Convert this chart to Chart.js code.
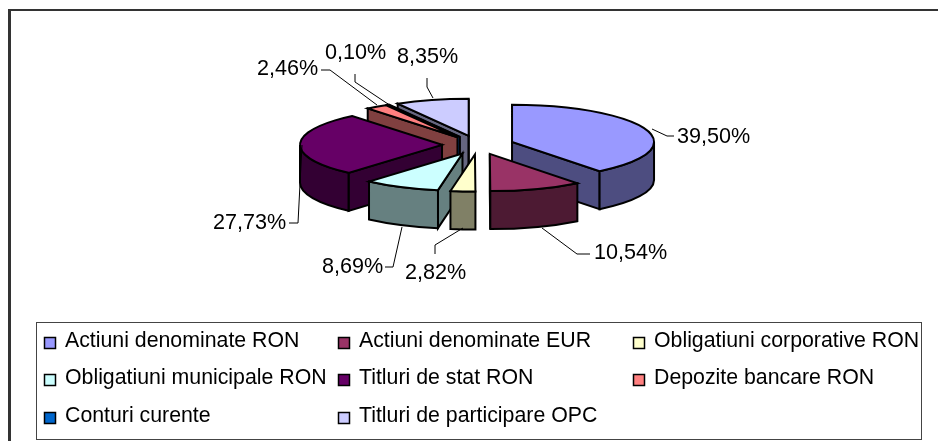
<!DOCTYPE html>
<html>
<head>
<meta charset="utf-8">
<style>
  html, body { margin: 0; padding: 0; background: #fff; }
  #wrap { position: relative; width: 938px; height: 441px; }
</style>
<script src="https://cdn.jsdelivr.net/npm/chart.js@4"></script>
</head>
<body>
<div id="wrap"><canvas id="chart" width="938" height="441"></canvas></div>
<script>
const categories = [
    'Actiuni denominate RON', 'Actiuni denominate EUR', 'Obligatiuni corporative RON',
    'Obligatiuni municipale RON', 'Titluri de stat RON', 'Depozite bancare RON',
    'Conturi curente', 'Titluri de participare OPC'
];
const values = [39.50, 10.54, 2.82, 8.69, 27.73, 2.46, 0.10, 8.35];
const colors = ['#9999FF', '#993366', '#FFFFCC', '#CCFFFF', '#660066', '#FF8080', '#0066CC', '#CCCCFF'];
const sideColors = ['#4D4D80', '#4D1A33', '#808066', '#668080', '#330033', '#804040', '#003366', '#666680'];

// the look of the 3d pie
const tilt = 0.262;
const depth = 38;
const pieX = 478;
const pieY = 145;

// leader lines and text anchors, one per slice
const leaders = [
    [[652, 129], [667, 136], [674, 136]],
    [[542, 228], [577, 254], [590, 254]],
    [[463, 228], [435, 245], [435, 254]],
    [[402, 227], [393, 267], [385, 267]],
    [[302, 145], [298, 223], [289, 223]],
    [[377, 105], [330, 70], [321, 70]],
    [[388, 104], [355, 82], [355, 74]],
    [[433, 98], [427, 87], [427, 78]]
];
const labelPos = [[677, 137], [594, 253], [405, 273], [322, 267.5], [213, 223], [257, 69], [325, 53], [397, 57.5]];

const legendCols = [44, 338, 633];
const legendRows = [343, 380, 418];

function fmt(v) {
    return v.toFixed(2).replace('.', ',') + '%';
}

const pie3d = {
    id: 'pie3d',
    beforeDatasetDraw(chart, args) {
        const ctx = chart.ctx;
        const arcs = chart.getDatasetMeta(0).data;
        const px = (a, r, o) => ({ x: pieX + o.x + Math.cos(a) * r, y: pieY + (o.y + Math.sin(a) * r) * tilt });

        // back slices first
        const order = arcs.map((a, i) => i).sort((p, q) => {
            const m = i => (arcs[i].startAngle + arcs[i].endAngle) / 2;
            return Math.sin(m(p)) - Math.sin(m(q));
        });

        ctx.save();
        ctx.lineWidth = 2;
        ctx.strokeStyle = '#000';
        ctx.lineJoin = 'miter';
        order.forEach(i => {
            const el = arcs[i];
            const { startAngle, endAngle, outerRadius } = el.getProps(['startAngle', 'endAngle', 'outerRadius']);
            const mid = (startAngle + endAngle) / 2;
            const off = { x: Math.cos(mid) * el.options.offset, y: Math.sin(mid) * el.options.offset };
            const apex = px(0, 0, off);

            const wall = a => {
                const p = px(a, outerRadius, off);
                ctx.beginPath();
                ctx.moveTo(apex.x, apex.y);
                ctx.lineTo(p.x, p.y);
                ctx.lineTo(p.x, p.y + depth);
                ctx.lineTo(apex.x, apex.y + depth);
                ctx.closePath();
                ctx.fillStyle = sideColors[i];
                ctx.fill();
                ctx.stroke();
            };
            if (Math.cos(startAngle) < 0) wall(startAngle);
            if (Math.cos(endAngle) > 0) wall(endAngle);

            // rim, only the part that faces the viewer
            [[0, Math.PI], [2 * Math.PI, 3 * Math.PI]].forEach(([lo, hi]) => {
                const a0 = Math.max(startAngle, lo);
                const a1 = Math.min(endAngle, hi);
                if (a1 <= a0) return;
                ctx.beginPath();
                ctx.ellipse(pieX + off.x, pieY + off.y * tilt, outerRadius, outerRadius * tilt, 0, a0, a1);
                ctx.ellipse(pieX + off.x, pieY + off.y * tilt + depth, outerRadius, outerRadius * tilt, 0, a1, a0, true);
                ctx.closePath();
                ctx.fillStyle = sideColors[i];
                ctx.fill();
                ctx.stroke();
            });

            // top face
            ctx.beginPath();
            ctx.moveTo(apex.x, apex.y);
            ctx.ellipse(pieX + off.x, pieY + off.y * tilt, outerRadius, outerRadius * tilt, 0, startAngle, endAngle);
            ctx.closePath();
            ctx.fillStyle = colors[i];
            ctx.fill();
            ctx.stroke();
        });
        ctx.restore();
        return false;
    },
    afterDatasetsDraw(chart) {
        const ctx = chart.ctx;
        ctx.save();

        // outer frame, only left and top show
        ctx.strokeStyle = '#333';
        ctx.lineWidth = 3;
        ctx.beginPath();
        ctx.moveTo(9.5, 441);
        ctx.lineTo(9.5, 10);
        ctx.stroke();
        ctx.lineWidth = 2;
        ctx.beginPath();
        ctx.moveTo(8, 10);
        ctx.lineTo(938, 10);
        ctx.stroke();

        // leader lines and value labels
        ctx.strokeStyle = '#000';
        ctx.lineWidth = 1;
        leaders.forEach(l => {
            ctx.beginPath();
            l.forEach((p, k) => k ? ctx.lineTo(p[0], p[1]) : ctx.moveTo(p[0], p[1]));
            ctx.stroke();
        });
        ctx.fillStyle = '#000';
        ctx.font = '21.6px "Liberation Sans"';
        ctx.textAlign = 'left';
        ctx.textBaseline = 'middle';
        values.forEach((v, i) => ctx.fillText(fmt(v), labelPos[i][0], labelPos[i][1]));

        // legend box, filled row by row with three columns
        ctx.fillStyle = '#fff';
        ctx.strokeStyle = '#444';
        ctx.lineWidth = 1;
        ctx.fillRect(37, 322, 884, 117);
        ctx.strokeRect(36.5, 322.5, 885, 117);
        ctx.font = '21.3px "Liberation Sans"';
        categories.forEach((name, i) => {
            const x = legendCols[i % 3];
            const y = legendRows[Math.floor(i / 3)];
            ctx.fillStyle = colors[i];
            ctx.strokeStyle = '#000';
            ctx.lineWidth = 1.5;
            ctx.fillRect(x + 0.5, y - 5.5, 11, 11);
            ctx.strokeRect(x + 0.5, y - 5.5, 11, 11);
            ctx.fillStyle = '#000';
            ctx.fillText(name, x + 21, y - 2);
        });
        ctx.restore();
    }
};

new Chart(document.getElementById('chart'), {
    type: 'pie',
    data: {
        labels: categories,
        datasets: [{
            data: values,
            backgroundColor: colors,
            borderWidth: 0,
            offset: 36,
            radius: 142
        }]
    },
    options: {
        responsive: false,
        animation: false,
        events: [],
        plugins: {
            legend: { display: false },
            tooltip: { enabled: false }
        }
    },
    plugins: [pie3d]
});
</script>
</body>
</html>
